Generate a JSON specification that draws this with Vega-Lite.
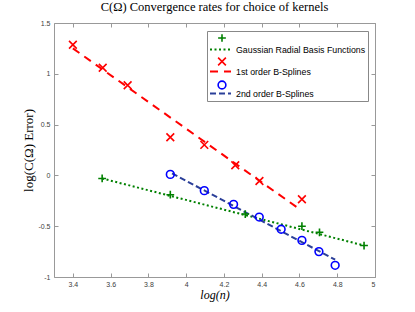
{
  "$schema": "https://vega.github.io/schema/vega-lite/v6.json",
  "width": 321,
  "height": 254,
  "autosize": "none",
  "padding": {"left": 54, "top": 23, "right": 40, "bottom": 35},
  "background": "white",
  "config": {"view": {"stroke": null}},
  "title": {"text": "C(Ω) Convergence rates for choice of kernels", "font": "Liberation Serif", "fontSize": 12.5, "fontWeight": "normal", "color": "#000", "anchor": "middle", "offset": 6},
  "datasets": {
    "pts": [
      {"series": "Gaussian", "x": 3.555, "y": -0.03},
      {"series": "Gaussian", "x": 3.916, "y": -0.19},
      {"series": "Gaussian", "x": 4.313, "y": -0.38},
      {"series": "Gaussian", "x": 4.613, "y": -0.5},
      {"series": "Gaussian", "x": 4.706, "y": -0.56},
      {"series": "Gaussian", "x": 4.942, "y": -0.69},
      {"series": "1st order", "x": 3.4, "y": 1.286},
      {"series": "1st order", "x": 3.558, "y": 1.06},
      {"series": "1st order", "x": 3.69, "y": 0.887},
      {"series": "1st order", "x": 3.916, "y": 0.375},
      {"series": "1st order", "x": 4.096, "y": 0.3},
      {"series": "1st order", "x": 4.26, "y": 0.1},
      {"series": "1st order", "x": 4.388, "y": -0.055},
      {"series": "1st order", "x": 4.613, "y": -0.235},
      {"series": "2nd order", "x": 3.916, "y": 0.01},
      {"series": "2nd order", "x": 4.096, "y": -0.15},
      {"series": "2nd order", "x": 4.251, "y": -0.285},
      {"series": "2nd order", "x": 4.387, "y": -0.41},
      {"series": "2nd order", "x": 4.503, "y": -0.53},
      {"series": "2nd order", "x": 4.613, "y": -0.64},
      {"series": "2nd order", "x": 4.703, "y": -0.75},
      {"series": "2nd order", "x": 4.789, "y": -0.885}
    ],
    "fits": [
      {"line": "Gaussian Radial Basis Functions", "x": 3.555, "y": -0.03},
      {"line": "Gaussian Radial Basis Functions", "x": 4.942, "y": -0.69},
      {"line": "1st order B-Splines", "x": 3.4, "y": 1.25},
      {"line": "1st order B-Splines", "x": 4.595, "y": -0.325},
      {"line": "2nd order B-Splines", "x": 3.925, "y": 0.02},
      {"line": "2nd order B-Splines", "x": 4.789, "y": -0.83}
    ]
  },
  "layer": [
    {
      "data": {"name": "fits"},
      "mark": {"type": "line", "strokeWidth": 2, "clip": true},
      "encoding": {
        "x": {"field": "x", "type": "quantitative", "scale": {"domain": [3.3, 5], "nice": false, "zero": false},
          "axis": {"orient": "bottom", "values": [3.4, 3.6, 3.8, 4, 4.2, 4.4, 4.6, 4.8, 5], "labelExpr": "'' + datum.value", "grid": false, "tickSize": -4, "labelPadding": 7, "domainColor": "#999", "tickColor": "#999", "labelFont": "Liberation Sans", "labelFontSize": 7, "labelColor": "#404040", "title": "log(n)", "titleFont": "Liberation Serif", "titleFontStyle": "italic", "titleFontWeight": "normal", "titleFontSize": 12, "titleColor": "#000", "titlePadding": 2}},
        "y": {"field": "y", "type": "quantitative", "scale": {"domain": [-1, 1.5], "nice": false, "zero": false},
          "axis": {"orient": "left", "values": [-1, -0.5, 0, 0.5, 1, 1.5], "labelExpr": "'' + datum.value", "grid": false, "tickSize": -4, "labelPadding": 8, "domainColor": "#999", "tickColor": "#999", "labelFont": "Liberation Sans", "labelFontSize": 7, "labelColor": "#404040", "title": "log(C(Ω) Error)", "titleFont": "Liberation Serif", "titleFontWeight": "normal", "titleFontSize": 13, "titleColor": "#000", "titlePadding": 2}},
        "detail": {"field": "line"},
        "stroke": {"field": "line", "type": "nominal",
          "scale": {"domain": ["Gaussian Radial Basis Functions", "1st order B-Splines", "2nd order B-Splines"], "range": ["#008000", "#ff0000", "#2b3f99"]},
          "legend": {"orient": "none", "legendX": 153, "legendY": 8, "title": " ", "titleFontSize": 6, "titlePadding": 5, "padding": 2, "strokeColor": "#888", "fillColor": "white", "symbolType": "stroke", "symbolSize": 441, "symbolStrokeWidth": 2, "clipHeight": 11, "rowPadding": 11, "labelFont": "Liberation Sans", "labelFontSize": 8.8, "labelColor": "#000", "labelOffset": 4}},
        "strokeDash": {"field": "line", "type": "nominal",
          "scale": {"domain": ["Gaussian Radial Basis Functions", "1st order B-Splines", "2nd order B-Splines"], "range": [[2, 2.5], [8, 6], [6, 3]]},
          "legend": {"orient": "none", "legendX": 153, "legendY": 8, "title": " ", "titleFontSize": 6, "titlePadding": 5, "padding": 2, "strokeColor": "#888", "fillColor": "white", "symbolType": "stroke", "symbolSize": 441, "symbolStrokeWidth": 2, "clipHeight": 11, "rowPadding": 11, "labelFont": "Liberation Sans", "labelFontSize": 8.8, "labelColor": "#000", "labelOffset": 4}}
      }
    },
    {
      "data": {"name": "pts"},
      "mark": {"type": "point", "filled": false, "strokeWidth": 1.6, "size": 60, "opacity": 1},
      "encoding": {
        "x": {"field": "x", "type": "quantitative", "axis": {"orient": "top", "values": [3.4, 3.6, 3.8, 4, 4.2, 4.4, 4.6, 4.8, 5], "labels": false, "title": null, "grid": false, "tickSize": -4, "domainColor": "#999", "tickColor": "#999"}},
        "y": {"field": "y", "type": "quantitative", "axis": {"orient": "right", "values": [-1, -0.5, 0, 0.5, 1, 1.5], "labels": false, "title": null, "grid": false, "tickSize": -4, "domainColor": "#999", "tickColor": "#999"}},
        "color": {"field": "series", "type": "nominal",
          "scale": {"domain": ["Gaussian", "1st order", "2nd order"], "range": ["#008000", "#ff0000", "#0000ff"]},
          "legend": {"orient": "none", "legendX": 161, "legendY": 8, "title": null, "padding": 2, "symbolSize": 60, "symbolStrokeWidth": 1.6, "rowPadding": 7.5, "labelExpr": "''", "labelFontSize": 7.5, "labelOffset": 0}},
        "shape": {"field": "series", "type": "nominal",
          "scale": {"domain": ["Gaussian", "1st order", "2nd order"], "range": ["M-1,0L1,0M0,-1L0,1", "M-1,-1L1,1M-1,1L1,-1", "circle"]},
          "legend": {"orient": "none", "legendX": 161, "legendY": 8, "title": null, "padding": 2, "symbolSize": 60, "symbolStrokeWidth": 1.6, "rowPadding": 7.5, "labelExpr": "''", "labelFontSize": 7.5, "labelOffset": 0}}
      }
    }
  ],
  "resolve": {"axis": {"x": "independent", "y": "independent"}}
}
